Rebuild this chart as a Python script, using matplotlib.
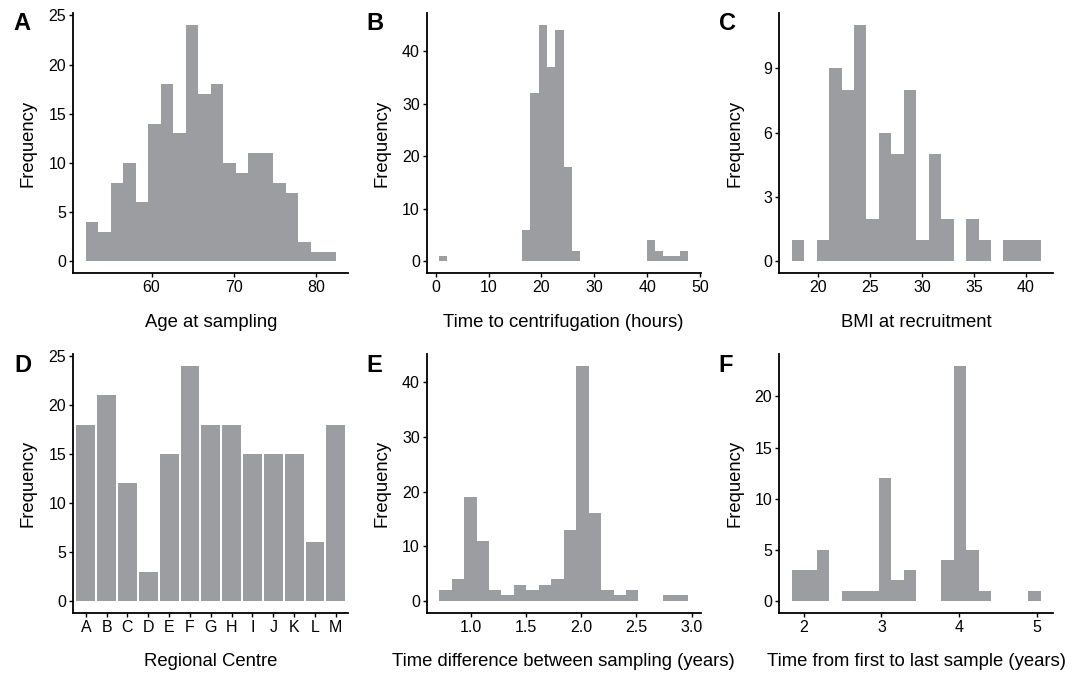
import matplotlib
matplotlib.use('Agg')
import matplotlib.pyplot as plt
import numpy as np

plt.rcParams['font.family'] = ['Liberation Sans', 'DejaVu Sans']

BAR = '#9c9da1'

# A: age at sampling (20 bins)
age_start, age_width = 52.0, 1.52
age_counts = [4, 3, 8, 10, 6, 14, 18, 13, 24, 17, 18, 10, 9, 11, 11, 8, 7, 2, 1, 1]

# B: time to centrifugation (30 bins)
cent_start, cent_width = 0.63, 1.572
cent_counts = [1, 0, 0, 0, 0, 0, 0, 0, 0, 0, 6, 32, 45, 37, 44, 18, 2,
               0, 0, 0, 0, 0, 0, 0, 0, 4, 2, 1, 1, 2]

# C: BMI at recruitment (20 bins)
bmi_start, bmi_width = 17.42, 1.2015
bmi_counts = [1, 0, 1, 9, 8, 11, 2, 6, 5, 8, 1, 5, 2, 0, 2, 1, 0, 1, 1, 1]

# D: regional centre
centres = ['A', 'B', 'C', 'D', 'E', 'F', 'G', 'H', 'I', 'J', 'K', 'L', 'M']
centre_counts = [18, 21, 12, 3, 15, 24, 18, 18, 15, 15, 15, 6, 18]

# E: time difference between sampling (20 bins)
diff_start, diff_width = 0.713, 0.1128
diff_counts = [2, 4, 19, 11, 2, 1, 3, 2, 3, 4, 13, 43, 16, 2, 1, 2, 0, 0, 1, 1]

# F: time from first to last sample (20 bins)
span_start, span_width = 1.845, 0.1603
span_counts = [3, 3, 5, 0, 1, 1, 1, 12, 2, 3, 0, 0, 4, 23, 5, 1, 0, 0, 0, 1]

W, H = 1084, 673
fig = plt.figure(figsize=(W / 100, H / 100), dpi=100)

cols = [(73.3, 275.0), (426.7, 274.0), (779.3, 274.0)]
rows = [(13.3, 273.3), (354.0, 612.7)]


def make_axes(r, c):
    x0, w = cols[c]
    top, bot = rows[r]
    ax = fig.add_axes([x0 / W, 1 - bot / H, w / W, (bot - top) / H])
    for s in ('top', 'right'):
        ax.spines[s].set_visible(False)
    for s in ('left', 'bottom'):
        ax.spines[s].set_linewidth(1.3)
    ax.tick_params(length=3, width=1.0, labelsize=11.5, pad=2, colors='black')
    ax.set_ylabel('Frequency', fontsize=13.3)
    ax.yaxis.set_label_coords(-0.163, 0.5)
    ax.yaxis.label.set_va('center')
    return ax, bot - top


def hist_panel(r, c, start, width, counts, xlabel, yticks, xticks, xfmt=None):
    ax, hpx = make_axes(r, c)
    counts = np.asarray(counts)
    edges = start + width * np.arange(len(counts) + 1)
    ax.stairs(counts, edges, fill=True, color=BAR, baseline=0, lw=0)
    lo, hi = edges[0], edges[-1]
    pad = 0.05 * (hi - lo)
    ax.set_xlim(lo - pad, hi + pad)
    ax.set_ylim(-0.05 * counts.max(), 1.05 * counts.max())
    ax.set_yticks(yticks)
    ax.set_xticks(xticks)
    if xfmt:
        ax.set_xticklabels([xfmt.format(v) for v in xticks])
    ax.set_xlabel(xlabel, fontsize=13.3)
    ax.xaxis.set_label_coords(0.5, -49 / hpx)
    ax.xaxis.label.set_va('center')
    return ax


hist_panel(0, 0, age_start, age_width, age_counts, 'Age at sampling',
           [0, 5, 10, 15, 20, 25], [60, 70, 80])
hist_panel(0, 1, cent_start, cent_width, cent_counts, 'Time to centrifugation (hours)',
           [0, 10, 20, 30, 40], [0, 10, 20, 30, 40, 50])
hist_panel(0, 2, bmi_start, bmi_width, bmi_counts, 'BMI at recruitment',
           [0, 3, 6, 9], [20, 25, 30, 35, 40])

# regional centre bar chart
ax, hpx = make_axes(1, 0)
pos = np.arange(1, len(centres) + 1)
ax.bar(pos, centre_counts, width=0.9, color=BAR, lw=0)
ax.set_xlim(0.4, len(centres) + 0.6)
ax.set_ylim(-0.05 * max(centre_counts), 1.05 * max(centre_counts))
ax.set_yticks([0, 5, 10, 15, 20, 25])
ax.set_xticks(pos)
ax.set_xticklabels(centres)
ax.set_xlabel('Regional Centre', fontsize=13.3)
ax.xaxis.set_label_coords(0.5, -49 / hpx)
ax.xaxis.label.set_va('center')

hist_panel(1, 1, diff_start, diff_width, diff_counts,
           'Time difference between sampling (years)',
           [0, 10, 20, 30, 40], [1.0, 1.5, 2.0, 2.5, 3.0], '{:.1f}')
hist_panel(1, 2, span_start, span_width, span_counts,
           'Time from first to last sample (years)',
           [0, 5, 10, 15, 20], [2, 3, 4, 5])

# panel letters
letters = [('A', 22, 24), ('B', 375, 24), ('C', 727.5, 24),
           ('D', 22.5, 365.5), ('E', 374, 365.5), ('F', 726, 365.5)]
for t, x, y in letters:
    fig.text(x / W, 1 - y / H, t, fontsize=17, fontweight='bold',
             ha='center', va='center')

fig.savefig('out.png', dpi=100)
